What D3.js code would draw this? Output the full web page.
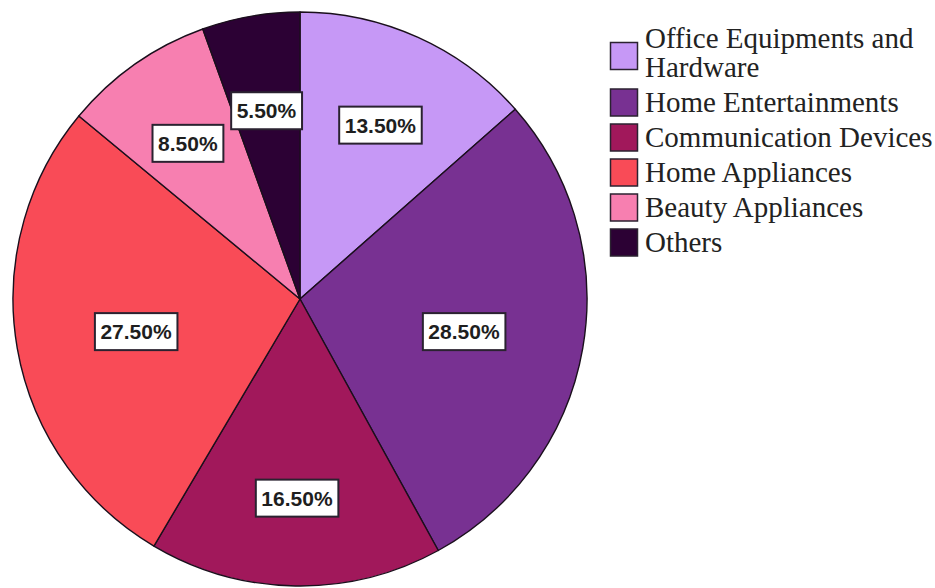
<!DOCTYPE html>
<html>
<head>
<meta charset="utf-8">
<script src="https://cdn.jsdelivr.net/npm/d3@7"></script>
<style>
  html, body { margin: 0; padding: 0; background: #ffffff; }
  svg { display: block; }
</style>
</head>
<body>
<svg id="chart" width="935" height="588"></svg>
<script>
// Product categories and their share of sales (percent)
const categories = [
  ["Office Equipments and", "Hardware"],
  ["Home Entertainments"],
  ["Communication Devices"],
  ["Home Appliances"],
  ["Beauty Appliances"],
  ["Others"]
];
const shares = [13.5, 28.5, 16.5, 27.5, 8.5, 5.5];
const valueLabels = ["13.50%", "28.50%", "16.50%", "27.50%", "8.50%", "5.50%"];
const sliceColors = ["#c698f6", "#783192", "#a1185b", "#f94b57", "#f77fb0", "#2c0134"];

const svg = d3.select("#chart");
const cx = 300, cy = 299, radius = 287;

const data = shares.map((v, i) => ({ name: categories[i], value: v, label: valueLabels[i], color: sliceColors[i] }));

const pie = d3.pie().value(d => d.value).sort(null);
const arcs = pie(data);
const arc = d3.arc().innerRadius(0).outerRadius(radius);

const g = svg.append("g").attr("transform", `translate(${cx},${cy})`);

g.selectAll("path.slice")
  .data(arcs)
  .enter().append("path")
  .attr("class", "slice")
  .attr("d", arc)
  .attr("fill", d => d.data.color)
  .attr("stroke", "#1a0f1c")
  .attr("stroke-width", 1.4)
  .attr("stroke-linejoin", "round");

// Value labels in white boxes; wide slices pull the label nearer the centre
const labels = g.selectAll("g.vlabel")
  .data(arcs)
  .enter().append("g")
  .attr("class", "vlabel")
  .attr("transform", d => {
    const span = d.endAngle - d.startAngle;
    const lr = radius * (span > 1.5 ? 0.58 : 0.68);
    const c = d3.arc().innerRadius(lr).outerRadius(lr).centroid(d);
    return `translate(${c[0]},${c[1] + 4})`;
  });

labels.append("text")
  .attr("text-anchor", "middle")
  .attr("dy", "0.36em")
  .style("font-family", "'Liberation Sans', Arial, sans-serif")
  .style("font-weight", "bold")
  .style("font-size", "21px")
  .attr("fill", "#1e1e1e")
  .text(d => d.data.label);

labels.each(function() {
  const grp = d3.select(this);
  const bb = grp.select("text").node().getBBox();
  const padX = 5.5;
  grp.insert("rect", "text")
    .attr("x", bb.x - padX)
    .attr("y", -18.5)
    .attr("width", bb.width + padX * 2)
    .attr("height", 37)
    .attr("fill", "#ffffff")
    .attr("stroke", "#2a2230")
    .attr("stroke-width", 2);
});

// Legend
const legend = svg.append("g").attr("transform", "translate(610,0)");
const lineGap = 29, itemGap = 35;
let baseline = 48;
data.forEach((d, i) => {
  const lines = d.name;
  const firstBase = baseline;
  const lastBase = baseline + (lines.length - 1) * lineGap;
  const midY = (firstBase + lastBase) / 2 - 10 + 0.5;
  legend.append("rect")
    .attr("x", 0.5)
    .attr("y", midY - 13.5 + (lines.length > 1 ? 3 : 0))
    .attr("width", 27)
    .attr("height", 27)
    .attr("fill", d.color)
    .attr("stroke", "#2b2230")
    .attr("stroke-width", 1.5);
  lines.forEach((t, j) => {
    legend.append("text")
      .attr("x", 35)
      .attr("y", baseline + j * lineGap)
      .style("font-family", "'Liberation Serif', 'Times New Roman', serif")
      .style("font-size", "29px")
      .attr("fill", "#222222")
      .text(t);
  });
  baseline = lastBase + itemGap;
});
</script>
</body>
</html>
